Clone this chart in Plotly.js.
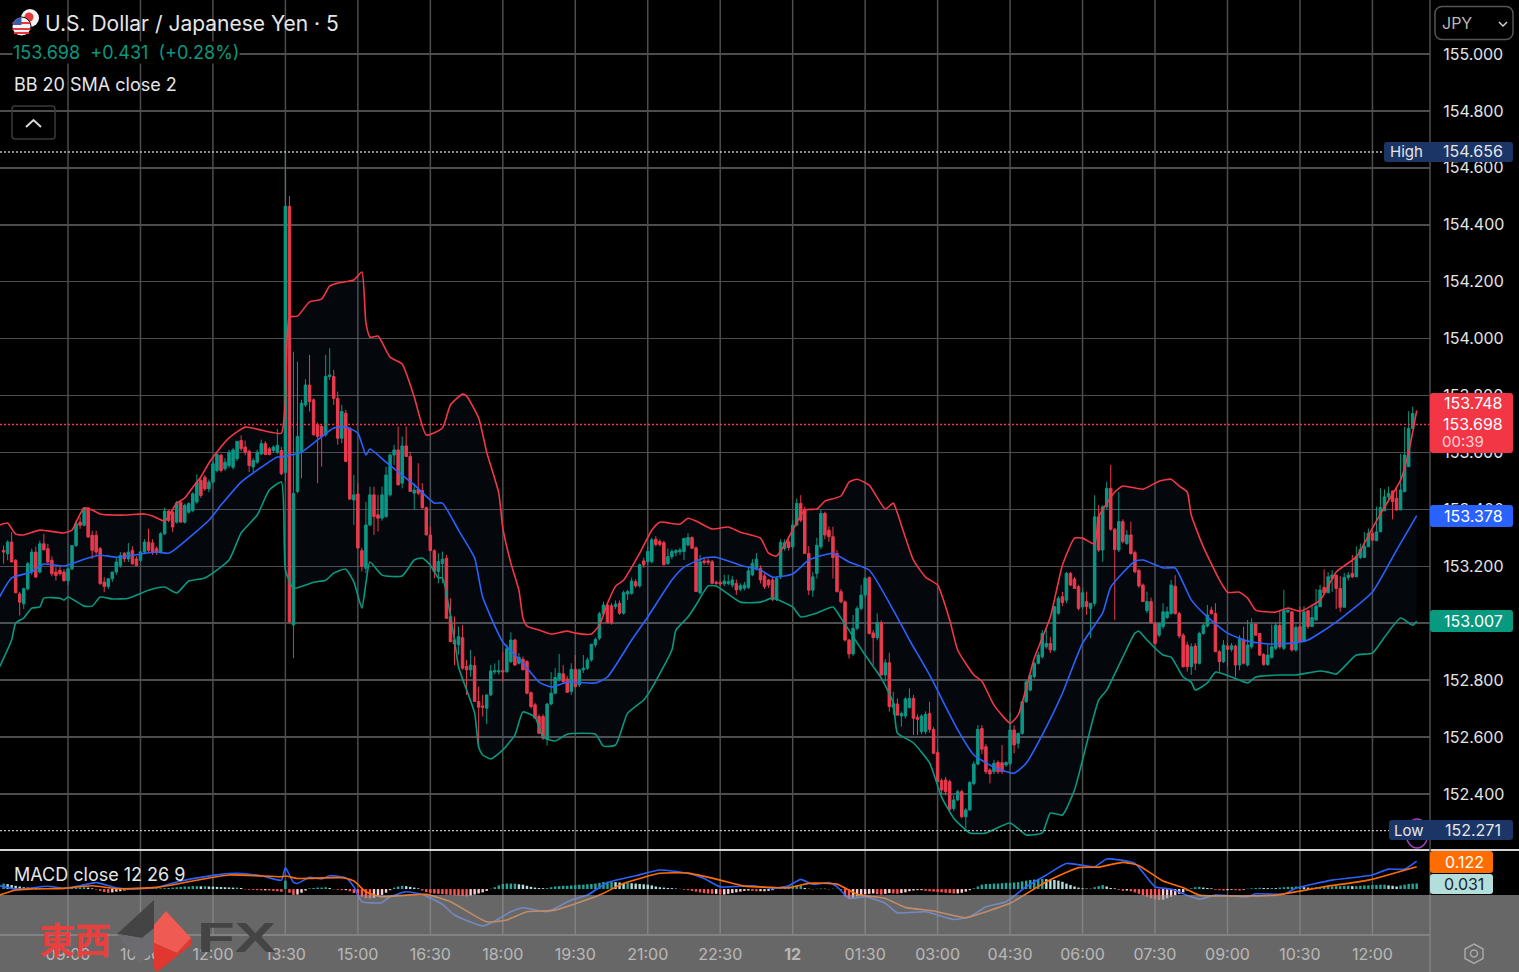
<!DOCTYPE html>
<html>
<head>
<meta charset="utf-8">
<script src="https://cdn.plot.ly/plotly-3.0.1.min.js"></script>
<style>
html, body { margin: 0; padding: 0; background: #000; overflow: hidden; }
#chart { position: absolute; left: 0; top: 0; width: 1519px; height: 972px; }
#icons { position: absolute; left: 0; top: 0; pointer-events: none; }
</style>
</head>
<body>
<div id="chart"></div>
<svg id="icons" width="1519" height="972" viewBox="0 0 1519 972">
  <!-- currency flags -->
  <circle cx="30" cy="18" r="9" fill="#f2f2f2"/>
  <circle cx="29" cy="17" r="4.5" fill="#e5373c"/>
  <circle cx="21.5" cy="26.5" r="9.5" fill="#f4f4f4" stroke="#000" stroke-width="1"/>
  <path d="M12.5 23h18M12.5 29h18M14 33h15" stroke="#e5373c" stroke-width="2.2"/>
  <path d="M13 25a9.5 9.5 0 0 1 8.5-8v8z" fill="#3b5aa8"/>
  <!-- collapse button -->
  <rect x="12" y="106" width="43" height="33" rx="3" fill="none" stroke="#3a3a3a" stroke-width="1.5"/>
  <path d="M26 127l7.5-7 7.5 7" fill="none" stroke="#d8d8d8" stroke-width="2"/>
  <!-- currency select -->
  <rect x="1435" y="6.5" width="78" height="33" rx="7" fill="none" stroke="#555" stroke-width="1.5"/>
  <path d="M1499 22l4 4 4-4" fill="none" stroke="#d0d0d0" stroke-width="1.5"/>
  <!-- settings -->
  <path d="M1474 944l9 5v9.500l-9 5-9-5v-9.500z" fill="none" stroke="#a8a8a8" stroke-width="1.500"/>
  <circle cx="1474" cy="953.500" r="3.500" fill="none" stroke="#a8a8a8" stroke-width="1.500"/>
  <!-- logo -->
  <path d="M154 900L117 934L142 938L154 928z" fill="#444"/>
  <path d="M117 934L140 963L154 952V929L142 938z" fill="#6c6c70"/>
  <path d="M154 925L166 911L191 938L177 953L154 943z" fill="#ef5a52"/>
  <path d="M154 943L177 953L191 938V945L157 972L154 968z" fill="#e2372f"/>
  <text x="197" y="952" font-family="Liberation Sans" font-weight="bold" font-size="42" fill="#444" textLength="79" lengthAdjust="spacingAndGlyphs">FX</text>
</svg>
<script>
// candle index of the first bar, one bar = 5 minutes
const firstCandle = -16;

const opens = [
153.256,153.244,153.285,153.221,153.103,153.068,153.121,153.180,153.250,153.180,
153.279,153.262,153.221,153.180,153.186,153.180,153.150,153.191,153.273,153.355,
153.344,153.405,153.309,153.309,153.262,153.145,153.129,153.156,153.180,153.203,
153.246,153.226,153.256,153.226,153.221,153.250,153.285,153.282,153.262,153.250,
153.314,153.394,153.390,153.355,153.425,153.355,153.390,153.396,153.426,153.502,
153.513,153.472,153.496,153.537,153.590,153.543,153.554,153.548,153.578,153.642,
153.619,153.604,153.549,153.566,153.595,153.631,153.613,153.607,153.601,153.607,
153.530,154.465,152.994,153.463,153.603,153.767,153.837,153.785,153.697,153.691,
153.662,153.867,153.867,153.790,153.650,153.738,153.685,153.433,153.454,153.255,
153.193,153.345,153.451,153.381,153.369,153.375,153.451,153.591,153.609,153.492,
153.623,153.586,153.457,153.471,153.466,153.406,153.310,153.255,153.182,153.210,
153.228,153.023,152.941,152.924,152.949,152.848,152.836,152.851,152.725,152.709,
152.701,152.748,152.829,152.829,152.833,152.830,152.865,152.941,152.859,152.873,
152.865,152.756,152.713,152.672,152.672,152.592,152.716,152.754,152.801,152.822,
152.804,152.760,152.838,152.783,152.836,152.842,152.871,152.924,152.947,153.033,
153.064,153.061,153.058,153.070,153.035,153.103,153.105,153.146,153.131,153.219,
153.216,153.216,153.295,153.287,153.283,153.210,153.234,153.248,153.251,153.252,
153.275,153.301,153.265,153.107,153.219,153.219,153.216,153.144,153.143,153.138,
153.140,153.134,153.140,153.119,153.123,153.126,153.170,153.193,153.193,153.166,
153.152,153.152,153.084,153.163,153.263,153.286,153.269,153.345,153.421,153.400,
153.245,153.116,153.175,153.269,153.386,153.327,153.304,153.245,153.111,153.075,
152.941,152.892,152.982,153.052,153.099,153.160,152.966,152.949,153.002,152.818,
152.861,152.704,152.716,152.674,152.674,152.704,152.736,152.669,152.619,152.619,
152.683,152.627,152.545,152.447,152.449,152.443,152.349,152.379,152.408,152.320,
152.344,152.437,152.505,152.630,152.566,152.484,152.478,152.511,152.510,152.502,
152.507,152.625,152.578,152.613,152.724,152.765,152.812,152.859,152.882,152.917,
152.929,152.906,153.035,153.093,153.081,153.175,153.155,153.128,153.058,153.076,
153.052,153.070,153.374,153.257,153.409,153.474,153.330,153.257,153.357,153.280,
153.310,153.248,153.185,153.134,153.044,153.076,152.999,152.958,152.988,153.020,
153.034,153.130,153.034,152.958,152.923,152.847,152.920,152.859,152.964,152.990,
153.046,153.034,152.900,152.865,152.920,152.908,152.920,152.853,152.941,152.853,
152.917,152.997,152.964,152.890,152.855,152.880,152.912,152.993,152.912,153.040,
153.040,152.906,152.988,152.935,153.044,152.988,153.011,153.058,153.126,153.107,
153.157,153.169,153.122,153.056,153.161,153.175,153.163,153.231,153.231,153.269,
153.316,153.290,153.321,153.395,153.444,153.465,153.439,153.398,153.462,153.550,
153.684,153.731];

const highs = [
153.273,153.291,153.320,153.225,153.110,153.125,153.215,153.262,153.270,153.290,
153.314,153.279,153.235,153.197,153.203,153.190,153.195,153.275,153.361,153.373,
153.405,153.405,153.325,153.325,153.268,153.162,153.158,153.180,153.232,153.250,
153.250,153.282,153.270,153.235,153.255,153.295,153.332,153.295,153.270,153.320,
153.406,153.398,153.395,153.430,153.430,153.420,153.425,153.460,153.523,153.510,
153.520,153.505,153.570,153.600,153.595,153.580,153.610,153.615,153.640,153.660,
153.642,153.610,153.580,153.610,153.645,153.640,153.620,153.625,153.683,153.620,
154.656,154.501,153.954,153.919,153.785,153.857,153.943,153.790,153.705,153.700,
153.943,153.966,153.890,153.814,153.767,153.750,153.690,153.521,153.492,153.265,
153.427,153.480,153.480,153.451,153.480,153.550,153.597,153.627,153.691,153.656,
153.691,153.603,153.492,153.562,153.492,153.410,153.340,153.260,153.246,153.252,
153.240,153.088,153.023,152.988,152.994,152.871,152.906,152.883,152.777,152.748,
152.748,152.853,152.859,152.871,152.900,152.925,152.968,152.945,152.895,152.883,
152.870,152.760,152.720,152.680,152.680,152.720,152.828,152.842,152.892,152.853,
152.815,152.859,152.888,152.840,152.888,152.880,152.925,152.950,153.040,153.076,
153.075,153.070,153.080,153.080,153.115,153.118,153.160,153.155,153.210,153.230,
153.270,153.300,153.306,153.295,153.290,153.263,153.260,153.260,153.265,153.300,
153.316,153.305,153.270,153.240,153.228,153.228,153.222,153.150,153.150,153.170,
153.170,153.165,153.154,153.140,153.145,153.195,153.225,153.246,153.203,153.175,
153.155,153.160,153.165,153.295,153.295,153.300,153.362,153.438,153.450,153.410,
153.271,153.180,153.300,153.398,153.392,153.340,153.339,153.257,153.120,153.080,
152.945,153.029,153.060,153.134,153.163,153.165,152.976,153.034,153.010,152.874,
152.896,152.759,152.736,152.690,152.740,152.771,152.748,152.680,152.680,152.690,
152.724,152.635,152.555,152.455,152.460,152.450,152.395,152.415,152.415,152.350,
152.445,152.515,152.642,152.642,152.575,152.490,152.520,152.518,152.572,152.515,
152.686,152.640,152.610,152.725,152.800,152.820,152.865,152.900,152.976,152.982,
152.952,153.060,153.095,153.110,153.180,153.180,153.162,153.135,153.122,153.111,
153.070,153.450,153.415,153.415,153.497,153.556,153.335,153.462,153.365,153.327,
153.357,153.255,153.192,153.140,153.111,153.090,153.005,153.000,153.070,153.058,
153.152,153.169,153.040,152.965,152.935,152.929,152.930,152.970,153.000,153.064,
153.058,153.070,152.905,152.941,152.930,152.930,152.925,152.958,152.988,153.011,
153.017,152.970,152.895,152.895,152.925,152.995,153.000,153.045,153.117,153.045,
152.990,152.995,153.058,153.060,153.025,153.065,153.120,153.135,153.189,153.180,
153.187,153.130,153.165,153.177,153.180,153.240,153.270,153.280,153.320,153.333,
153.325,153.410,153.474,153.470,153.480,153.445,153.475,153.595,153.690,153.745,
153.761];

const lows = [
153.209,153.221,153.215,153.107,153.027,153.050,153.115,153.170,153.160,153.175,
153.255,153.205,153.165,153.150,153.168,153.145,153.133,153.186,153.268,153.332,
153.340,153.300,153.226,153.240,153.135,153.109,153.120,153.145,153.170,153.195,
153.215,153.215,153.205,153.200,153.215,153.245,153.250,153.240,153.240,153.245,
153.310,153.355,153.320,153.350,153.355,153.350,153.385,153.390,153.420,153.440,
153.465,153.460,153.490,153.530,153.530,153.535,153.545,153.540,153.570,153.605,
153.590,153.531,153.530,153.560,153.590,153.590,153.590,153.600,153.595,153.520,
153.500,153.000,152.877,153.457,153.509,153.760,153.744,153.660,153.492,153.550,
153.655,153.855,153.767,153.627,153.632,153.568,153.435,153.345,153.264,153.182,
153.176,153.340,153.310,153.322,153.360,153.370,153.445,153.556,153.485,153.474,
153.585,153.463,153.398,153.450,153.400,153.310,153.255,153.158,153.140,153.140,
153.017,152.935,152.853,152.890,152.836,152.748,152.812,152.725,152.561,152.672,
152.646,152.745,152.820,152.820,152.795,152.825,152.860,152.850,152.855,152.835,
152.750,152.700,152.665,152.610,152.590,152.570,152.712,152.750,152.795,152.790,
152.755,152.748,152.775,152.775,152.825,152.835,152.865,152.915,152.940,153.025,
153.000,152.995,153.050,153.030,153.030,153.082,153.100,153.125,153.125,153.195,
153.205,153.210,153.270,153.270,153.205,153.205,153.225,153.235,153.240,153.222,
153.270,153.262,153.111,153.100,153.205,153.205,153.140,153.135,153.130,153.130,
153.133,153.125,153.099,153.112,153.115,153.120,153.165,153.185,153.140,153.120,
153.125,153.078,153.078,153.155,153.255,153.255,153.260,153.340,153.355,153.245,
153.099,153.093,153.157,153.260,153.295,153.286,153.157,153.108,153.070,152.935,
152.876,152.885,152.975,153.045,153.090,152.960,152.853,152.940,152.815,152.795,
152.689,152.677,152.675,152.636,152.665,152.700,152.607,152.607,152.610,152.610,
152.615,152.540,152.440,152.400,152.395,152.340,152.340,152.375,152.315,152.279,
152.340,152.430,152.500,152.540,152.470,152.437,152.470,152.470,152.470,152.495,
152.500,152.543,152.560,152.608,152.720,152.760,152.805,152.855,152.875,152.910,
152.895,152.900,153.030,153.060,153.070,153.130,153.120,153.045,153.050,153.029,
152.947,153.060,153.250,153.216,153.400,153.325,153.011,153.250,153.280,153.275,
153.240,153.175,153.125,153.075,153.035,153.000,152.925,152.950,152.980,153.015,
153.030,153.030,152.947,152.845,152.830,152.818,152.835,152.855,152.960,152.985,
153.030,152.900,152.830,152.860,152.847,152.900,152.812,152.835,152.855,152.848,
152.910,152.955,152.885,152.850,152.850,152.875,152.905,152.910,152.905,153.035,
152.900,152.900,152.930,152.982,152.980,153.005,153.055,153.105,153.100,153.150,
153.110,153.050,153.040,153.155,153.150,153.158,153.225,153.225,153.265,153.290,
153.285,153.315,153.390,153.440,153.425,153.365,153.395,153.455,153.545,153.660,
153.684];

const closes = [
153.250,153.285,153.215,153.107,153.074,153.121,153.209,153.250,153.162,153.279,
153.258,153.215,153.174,153.168,153.174,153.150,153.191,153.273,153.349,153.344,
153.405,153.303,153.256,153.250,153.139,153.129,153.156,153.180,153.215,153.238,
153.226,153.250,153.209,153.203,153.250,153.285,153.256,153.250,153.250,153.314,
153.394,153.361,153.338,153.423,153.355,153.414,153.420,153.455,153.496,153.449,
153.472,153.496,153.560,153.593,153.537,153.566,153.601,153.609,153.639,153.613,
153.601,153.554,153.572,153.601,153.631,153.593,153.593,153.619,153.625,153.525,
154.465,153.005,153.456,153.656,153.773,153.837,153.779,153.662,153.656,153.656,
153.867,153.872,153.790,153.650,153.744,153.568,153.436,153.451,153.264,153.199,
153.345,153.451,153.375,153.369,153.451,153.521,153.591,153.609,153.486,153.623,
153.586,153.463,153.468,153.457,153.406,153.310,153.255,153.182,153.217,153.225,
153.017,152.935,152.927,152.953,152.842,152.836,152.853,152.725,152.705,152.705,
152.748,152.832,152.833,152.833,152.829,152.910,152.941,152.853,152.880,152.836,
152.754,152.707,152.666,152.613,152.596,152.716,152.754,152.809,152.824,152.795,
152.757,152.838,152.777,152.836,152.842,152.871,152.926,152.943,153.033,153.064,
153.002,153.002,153.067,153.035,153.107,153.111,153.148,153.131,153.205,153.205,
153.252,153.293,153.277,153.277,153.205,153.234,153.252,153.255,153.257,153.298,
153.301,153.263,153.111,153.216,153.213,153.214,153.140,153.140,153.138,153.148,
153.146,153.152,153.117,153.132,153.134,153.184,153.211,153.225,153.152,153.128,
153.134,153.084,153.157,153.284,153.283,153.266,153.345,153.421,153.362,153.245,
153.116,153.163,153.274,153.386,153.310,153.304,153.231,153.111,153.075,152.941,
152.892,152.982,153.052,153.099,153.157,152.964,152.949,153.002,152.818,152.861,
152.707,152.718,152.677,152.683,152.734,152.736,152.666,152.662,152.674,152.680,
152.627,152.543,152.443,152.414,152.408,152.346,152.379,152.408,152.320,152.344,
152.440,152.505,152.627,152.557,152.478,152.470,152.508,152.478,152.478,152.510,
152.625,152.572,152.613,152.724,152.794,152.818,152.859,152.888,152.964,152.929,
152.906,153.058,153.087,153.073,153.175,153.134,153.122,153.052,153.107,153.058,
153.070,153.374,153.257,153.409,153.474,153.330,153.259,153.357,153.286,153.310,
153.245,153.181,153.131,153.076,153.076,153.002,152.929,152.999,153.040,153.040,
153.134,153.034,152.955,152.847,152.847,152.917,152.859,152.964,152.993,153.029,
153.034,152.900,152.865,152.923,152.908,152.921,152.853,152.943,152.859,152.923,
152.997,152.958,152.888,152.855,152.888,152.917,152.993,152.917,153.044,153.046,
152.906,152.985,152.935,153.040,152.988,153.020,153.060,153.117,153.107,153.163,
153.169,153.122,153.056,153.161,153.169,153.163,153.234,153.259,153.269,153.316,
153.292,153.321,153.407,153.444,153.456,153.427,153.398,153.468,153.591,153.684,
153.737,153.698];

// Bollinger bands, read at the bends of each line
const upperX = [-17,-15,-13,-11,-7,-1,1,2,4,6,8,14,19,21,24,27,29,31,33,35,37,40,44,47,50,53,54,55,57,60,63,65,67,71,73,74,75,77,80,83,86,89,93,95,98,99,102,104,107,108,110,112,113,114,117,120,124,126,130,132,134,136,138,142,145,147,152,154,156,160,164,167,172,174,176,178,180,183,186,188,192,194,196,199,203,205,206,210,213,216,219,221,225,227,230,234,236,240,244,247,250,252,255,256,260,262,267,271,274,276,278,279,282,286,288,291,293,295,300,303,306,311,315,320,324,327,331,333,335];
const upperY = [153.345,153.352,153.313,153.310,153.327,153.317,153.327,153.355,153.405,153.398,153.384,153.380,153.384,153.377,153.359,153.422,153.440,153.478,153.514,153.563,153.602,153.651,153.689,153.682,153.672,153.668,153.784,154.076,154.079,154.129,154.139,154.185,154.195,154.206,154.234,154.055,154.005,154.009,153.935,153.911,153.795,153.661,153.686,153.767,153.805,153.798,153.721,153.601,153.457,153.334,153.211,153.116,153.018,152.990,152.976,152.962,152.972,152.965,152.962,152.993,153.070,153.130,153.151,153.246,153.327,153.355,153.348,153.369,153.359,153.331,153.338,153.320,153.299,153.246,153.236,153.275,153.327,153.398,153.401,153.429,153.447,153.496,153.506,153.485,153.401,153.422,153.387,153.222,153.162,153.134,153.011,152.905,152.818,152.796,152.712,152.649,152.677,152.877,153.022,153.204,153.299,153.299,153.278,153.373,153.461,153.482,153.471,153.499,153.506,153.482,153.461,153.380,153.268,153.152,153.109,153.109,153.088,153.046,153.039,153.053,153.042,153.081,153.180,153.233,153.334,153.408,153.503,153.601,153.748];

const basisX = [-17,-14,-9,-6,-1,4,8,12,22,25,27,35,38,43,47,52,53,58,62,66,69,72,74,75,79,86,91,93,97,101,103,108,113,117,120,124,131,134,140,144,150,153,158,161,167,172,175,180,184,190,194,199,205,209,214,221,225,230,235,238,243,247,252,257,259,265,267,272,275,279,283,288,293,298,304,308,315,324,330,335];
const basisY = [153.092,153.159,153.180,153.208,153.201,153.225,153.239,153.232,153.250,153.246,153.264,153.362,153.415,153.496,153.538,153.584,153.584,153.601,153.644,153.686,153.689,153.668,153.591,153.612,153.566,153.486,153.422,153.422,153.327,153.229,153.092,152.934,152.860,152.793,152.776,152.793,152.790,152.811,152.941,153.022,153.152,153.197,153.229,153.232,153.204,153.187,153.162,153.173,153.222,153.246,153.215,153.187,153.046,152.941,152.818,152.625,152.537,152.494,152.473,152.508,152.635,152.754,152.930,153.036,153.127,153.218,153.222,153.194,153.194,153.082,153.022,152.965,152.937,152.927,152.930,152.941,153.004,153.110,153.257,153.378];

const lowerX = [-17,-14,-13,-11,-9,-7,-6,-2,-1,0,4,6,8,11,15,20,24,27,30,34,40,43,47,50,53,54,56,61,64,66,69,71,73,74,75,78,83,86,88,90,92,93,96,97,101,102,103,105,108,111,113,116,118,121,124,131,133,136,139,143,145,150,151,154,156,159,161,167,172,175,180,182,186,190,192,198,202,205,206,210,214,217,220,224,228,234,238,242,244,247,250,252,256,258,262,265,266,268,272,274,277,279,280,283,285,289,293,295,301,305,311,313,315,320,324,327,331,334,335];
const lowerY = [152.846,152.941,153.001,153.018,153.053,153.057,153.088,153.088,153.081,153.092,153.060,153.060,153.092,153.085,153.088,153.116,153.127,153.106,153.148,153.159,153.222,153.317,153.380,153.468,153.496,153.187,153.123,153.144,153.151,153.176,153.190,153.145,153.053,153.141,153.215,153.169,153.166,153.222,153.229,153.204,153.159,153.159,152.941,152.846,152.684,152.565,152.537,152.523,152.555,152.607,152.688,152.670,152.600,152.586,152.610,152.610,152.568,152.572,152.684,152.730,152.772,152.906,152.976,153.022,153.064,153.131,153.131,153.074,153.074,153.088,153.057,153.022,153.036,153.057,153.018,152.888,152.807,152.720,152.614,152.579,152.509,152.389,152.315,152.263,152.263,152.298,152.256,152.263,152.333,152.326,152.414,152.519,152.730,152.765,152.881,152.965,152.972,152.941,152.888,152.881,152.811,152.793,152.765,152.790,152.828,152.811,152.790,152.811,152.818,152.818,152.832,152.828,152.821,152.888,152.895,152.951,153.018,152.993,153.007];

// MACD lines
const macdX = [-17,-13,-10,-5,-1,3,7,12,16,22,28,33,38,42,48,53,54,56,57,60,63,65,69,71,73,78,80,84,88,93,96,103,106,110,113,119,125,129,134,141,147,154,158,162,170,175,179,182,185,189,191,194,198,203,206,213,220,224,228,233,238,243,248,255,258,265,270,274,281,285,293,295,302,305,314,324,328,332,335];
const macdY = [0.018,0,0.004,0.015,0.004,0.018,0.035,0.007,0,0.009,0.044,0.064,0.08,0.086,0.073,0.049,0.117,0.036,0.031,0.064,0.055,0.073,0.062,0.013,-0.069,-0.073,-0.042,-0.015,-0.029,-0.084,-0.142,-0.202,-0.175,-0.124,-0.102,-0.124,-0.06,-0.033,0.036,0.073,0.104,0.086,0.058,0.012,0.018,0.004,0.018,0.053,0.026,0.035,0.013,-0.051,-0.042,-0.078,-0.129,-0.124,-0.166,-0.151,-0.097,-0.069,0.013,0.077,0.14,0.122,0.164,0.14,0.013,0,-0.055,-0.033,-0.042,-0.026,-0.027,0.004,0.049,0.077,0.109,0.109,0.153];

const signalX = [-17,-13,-9,-1,6,12,22,31,40,53,54,57,68,71,74,78,84,89,95,104,109,114,121,132,138,147,154,162,168,175,179,184,191,196,203,208,215,223,228,234,243,251,256,262,266,272,277,281,289,300,312,323,335];
const signalY = [-0.033,-0.005,0,0.004,0.018,0.002,0.009,0.044,0.077,0.067,0.071,0.058,0.062,0.044,-0.015,-0.042,-0.033,-0.029,-0.069,-0.179,-0.169,-0.124,-0.115,-0.033,0.031,0.086,0.087,0.049,0.016,0.009,0.007,0.031,0.027,-0.029,-0.051,-0.1,-0.12,-0.157,-0.124,-0.078,0.04,0.117,0.12,0.146,0.128,0.044,0.007,-0.033,-0.038,-0.033,0.013,0.049,0.122];

const histogram = [
0.030,0.027,0.022,0.018,0.014,0.010,0.008,0.006,0.005,0.004,
0.003,0.003,0.004,0.002,0.003,0.004,0.006,0.008,0.009,0.010,
0.010,0.008,0.004,-0.003,-0.010,-0.016,-0.020,-0.018,-0.014,-0.012,
-0.008,-0.005,-0.002,0.002,0.003,0.003,0.002,0.003,0.004,0.004,
0.005,0.006,0.008,0.010,0.012,0.014,0.014,0.016,0.016,0.015,
0.015,0.014,0.013,0.012,0.011,0.010,0.009,0.008,0.008,0.006,
-0.002,-0.004,-0.005,-0.006,-0.007,-0.007,-0.008,-0.010,-0.012,-0.015,
0.046,-0.020,-0.032,-0.030,-0.020,-0.008,0.004,0.006,0.008,0.008,
0.010,0.006,-0.002,-0.004,-0.006,-0.006,-0.012,-0.022,-0.032,-0.042,
-0.050,-0.052,-0.048,-0.040,-0.032,-0.020,-0.006,0.008,0.014,0.018,
0.016,0.012,0.008,0.004,-0.008,-0.016,-0.022,-0.024,-0.026,-0.028,
-0.030,-0.032,-0.034,-0.036,-0.038,-0.040,-0.036,-0.030,-0.024,-0.018,
-0.010,0.002,0.010,0.020,0.028,0.030,0.030,0.030,0.026,0.024,
0.018,0.012,0.008,0.006,0.005,0.005,0.010,0.014,0.016,0.018,
0.018,0.020,0.022,0.024,0.024,0.026,0.028,0.030,0.034,0.038,
0.040,0.040,0.038,0.036,0.034,0.034,0.032,0.030,0.028,0.026,
0.024,0.020,0.014,0.010,0.008,0.006,0.005,0.003,0.001,-0.004,
-0.006,-0.010,-0.014,-0.018,-0.022,-0.024,-0.026,-0.026,-0.030,-0.030,
-0.026,-0.022,-0.018,-0.014,-0.010,-0.008,-0.010,-0.012,-0.012,-0.012,
-0.010,-0.006,0.004,0.008,0.012,0.016,0.018,0.020,0.020,0.006,
0.002,-0.002,0.002,0.003,0.002,-0.002,0.002,0.002,-0.006,-0.040,
-0.050,-0.048,-0.040,-0.032,-0.028,-0.026,-0.024,-0.028,-0.030,-0.026,
-0.022,-0.024,-0.026,-0.022,-0.018,-0.012,-0.008,-0.006,-0.006,-0.010,
-0.012,-0.014,-0.016,-0.018,-0.020,-0.022,-0.024,-0.024,-0.020,-0.014,
-0.006,0.004,0.014,0.024,0.028,0.028,0.030,0.030,0.032,0.034,
0.034,0.036,0.038,0.042,0.046,0.050,0.052,0.054,0.056,0.054,
0.052,0.050,0.046,0.040,0.030,0.022,0.014,0.008,0.004,0.003,
0.002,0.010,0.016,0.022,0.014,0.006,0.004,-0.004,-0.010,-0.008,
-0.012,-0.018,-0.026,-0.034,-0.042,-0.050,-0.056,-0.060,-0.058,-0.050,
-0.042,-0.034,-0.026,-0.018,-0.008,0.004,0.010,0.012,0.008,0.006,
0.004,-0.004,-0.006,-0.008,-0.006,-0.004,-0.006,-0.008,-0.004,0.002,
0.004,0.006,0.007,0.006,0.005,0.006,0.005,0.008,0.010,0.012,
0.012,0.014,0.014,0.010,0.008,0.008,0.010,0.012,0.014,0.014,
0.014,0.016,0.016,0.018,0.018,0.016,0.016,0.018,0.020,0.020,
0.022,0.022,0.024,0.024,0.020,0.018,0.014,0.020,0.024,0.028,0.030,0.031];

const timeTicks = [0,18,36,54,72,90,108,126,144,162,180,198,216,234,252,270,288,306,324];
const timeLabels = ['09:00','10:30','12:00','13:30','15:00','16:30','18:00','19:30','21:00','22:30','<b>12</b>','01:30','03:00','04:30','06:00','07:30','09:00','10:30','12:00'];

const highPrice = 154.656, lowPrice = 152.271, lastPrice = 153.698;
const upColor = '#089981', downColor = '#f23645', gridColor = '#4d4d4d', textColor = '#e6e6e6';
const uiFont = 'Inter, Roboto, sans-serif';

const plotW = 1430, plotH = 935;
const px = x => x / plotW;
const py = y => 1 - y / plotH;

const candleX = opens.map((v, k) => firstCandle + k);
const histX = histogram.map((v, k) => firstCandle + k);
const histColors = histogram.map((v, k) => {
    let rising = k == 0 || v >= histogram[k - 1];
    if (v >= 0) return rising ? '#26a69a' : '#b2dfdb';
    return rising ? '#ffcdd2' : '#ff5252';
});

const smooth = { shape: 'spline', smoothing: 0.5 };

var candles = {
    type: 'candlestick', x: candleX, open: opens, high: highs, low: lows, close: closes,
    xaxis: 'x', yaxis: 'y', hoverinfo: 'skip',
    increasing: { line: { color: upColor, width: 1 }, fillcolor: upColor },
    decreasing: { line: { color: downColor, width: 1 }, fillcolor: downColor }
};
var lower = { type: 'scatter', mode: 'lines', x: lowerX, y: lowerY, xaxis: 'x', yaxis: 'y', hoverinfo: 'skip',
    line: Object.assign({ color: upColor, width: 1.6 }, smooth) };
var upper = { type: 'scatter', mode: 'lines', x: upperX, y: upperY, xaxis: 'x', yaxis: 'y', hoverinfo: 'skip',
    line: Object.assign({ color: downColor, width: 1.6 }, smooth), fill: 'tonexty', fillcolor: 'rgba(70,130,220,0.055)' };
var basis = { type: 'scatter', mode: 'lines', x: basisX, y: basisY, xaxis: 'x', yaxis: 'y', hoverinfo: 'skip',
    line: Object.assign({ color: '#2962ff', width: 1.6 }, smooth) };
var hist = { type: 'bar', x: histX, y: histogram, xaxis: 'x', yaxis: 'y2', hoverinfo: 'skip', width: 0.6,
    marker: { color: histColors, line: { width: 0 } } };
var macd = { type: 'scatter', mode: 'lines', x: macdX, y: macdY, xaxis: 'x', yaxis: 'y2', hoverinfo: 'skip',
    line: Object.assign({ color: '#2962ff', width: 1.6 }, smooth) };
var signal = { type: 'scatter', mode: 'lines', x: signalX, y: signalY, xaxis: 'x', yaxis: 'y2', hoverinfo: 'skip',
    line: Object.assign({ color: '#ff6d00', width: 1.6 }, smooth) };

// rounded label box, given in page pixels
function box(x0, y0, x1, y1, color) {
    const r = 3;
    const p = (x, y) => px(x) + ',' + py(y);
    return {
        type: 'path', xref: 'paper', yref: 'paper', layer: 'above', fillcolor: color, line: { width: 0 },
        path: 'M' + p(x0 + r, y0) + ' L' + p(x1 - r, y0) + ' Q' + p(x1, y0) + ' ' + p(x1, y0 + r) +
              ' L' + p(x1, y1 - r) + ' Q' + p(x1, y1) + ' ' + p(x1 - r, y1) +
              ' L' + p(x0 + r, y1) + ' Q' + p(x0, y1) + ' ' + p(x0, y1 - r) +
              ' L' + p(x0, y0 + r) + ' Q' + p(x0, y0) + ' ' + p(x0 + r, y0) + ' Z'
    };
}
function priceLine(price, color) {
    return { type: 'line', xref: 'paper', yref: 'y', x0: 0, x1: 1, y0: price, y1: price, layer: 'above',
             line: { color: color, width: 1.4, dash: '2px,2px' } };
}
function label(x, y, text, size, color, anchor) {
    return { xref: 'paper', yref: 'paper', x: px(x), y: py(y), text: text, showarrow: false,
             xanchor: anchor || 'center', yanchor: 'middle', borderpad: 0,
             font: { family: uiFont, size: size, color: color } };
}

// vertical grid goes under the traces, the axis grid would lie over the bars that sit on a tick
var timeGrid = timeTicks.map(t => ({
    type: 'line', xref: 'x', yref: 'paper', x0: t, x1: t, y0: 0, y1: 1, layer: 'below',
    line: { color: gridColor, width: 1.5 }
}));

var shapes = timeGrid.concat([
    priceLine(highPrice, '#bdbdbd'),
    priceLine(lowPrice, '#bdbdbd'),
    priceLine(lastPrice, downColor),
    { type: 'line', xref: 'paper', yref: 'paper', x0: px(0), x1: px(1519), y0: py(850), y1: py(850), layer: 'above',
      line: { color: '#d4d4d4', width: 2 } },
    { type: 'line', xref: 'paper', yref: 'paper', x0: 1, x1: 1, y0: py(0), y1: py(972), layer: 'above',
      line: { color: gridColor, width: 1.5 } },
    { type: 'line', xref: 'paper', yref: 'paper', x0: 0, x1: 1, y0: py(935), y1: py(935), layer: 'above',
      line: { color: gridColor, width: 2 } },
    { type: 'rect', xref: 'paper', yref: 'paper', x0: px(0), x1: px(1519), y0: py(972), y1: py(895), layer: 'above',
      fillcolor: 'rgba(158,158,158,0.65)', line: { width: 0 } },
    { type: 'circle', xref: 'paper', yref: 'paper', x0: px(1406), x1: px(1428), y0: py(819), y1: py(848), layer: 'above',
      fillcolor: 'rgba(0,0,0,0)', line: { color: '#a040c0', width: 1.5 } },
    box(1384, 142, 1513, 162, '#1b3566'),
    box(1389, 820, 1513, 840, '#1b3566'),
    box(1430, 393, 1513, 453, downColor),
    box(1430, 505, 1513, 527, '#2962ff'),
    box(1430, 610, 1513, 632, upColor),
    box(1430, 851, 1493, 873, '#ff6d00'),
    box(1430, 874, 1493, 894, '#b2dfdb')
]);

var legendPrice = label(12, 53, '153.698 &#160;+0.431 &#160;(+0.28%)', 18, upColor, 'left');
legendPrice.bgcolor = '#000';

var annotations = [
    label(44, 23, 'U.S. Dollar / Japanese Yen · 5', 21, textColor, 'left'),
    legendPrice,
    label(13, 84, 'BB 20 SMA close 2', 18, textColor, 'left'),
    label(13, 874, 'MACD close 12 26 9', 18, textColor, 'left'),
    label(1441, 23, 'JPY', 16, '#b8b8b8', 'left'),
    label(1406, 151.5, 'High', 15, textColor),
    label(1473, 151.5, '154.656', 16, textColor),
    label(1408, 830, 'Low', 15, textColor),
    label(1473, 830, '152.271', 16, textColor),
    label(1473, 403, '153.748', 16, '#fff'),
    label(1473, 424, '153.698', 16, '#fff'),
    label(1463, 441, '00:39', 15, '#fdd0d4'),
    label(1473, 516, '153.378', 16, '#fff'),
    label(1473, 621, '153.007', 16, '#fff'),
    label(1464, 862, '0.122', 16, '#fff'),
    label(1464, 884, '0.031', 16, '#222'),
    { xref: 'paper', yref: 'paper', x: px(75), y: py(938), text: '<b>東西</b>', showarrow: false, xanchor: 'center', yanchor: 'middle',
      font: { family: '"Noto Sans CJK JP"', size: 36, color: '#e8403f' } }
];

var layout = {
    width: 1519, height: 972,
    margin: { l: 0, r: 89, t: 0, b: 37, pad: 0 },
    paper_bgcolor: '#000', plot_bgcolor: '#000',
    font: { family: uiFont },
    showlegend: false, bargap: 0.3, boxgap: 0.38, boxgroupgap: 0,
    xaxis: {
        range: [-68 / 4.026, (plotW - 68) / 4.026], anchor: 'y2',
        showgrid: false, zeroline: false,
        tickmode: 'array', tickvals: timeTicks, ticktext: timeLabels, rangeslider: { visible: false },
        ticks: 'outside', ticklen: 5, tickcolor: 'rgba(0,0,0,0)',
        tickfont: { family: uiFont, size: 16, color: '#e4e4e4' }
    },
    yaxis: {
        domain: [(plotH - 850) / plotH, 1], range: [152.203, 155.19], side: 'right', anchor: 'x',
        tick0: 155, dtick: 0.2, tickformat: '.3f', zeroline: false,
        showgrid: true, gridcolor: gridColor, gridwidth: 1.5,
        ticks: 'outside', ticklen: 9, tickcolor: 'rgba(0,0,0,0)',
        tickfont: { family: uiFont, size: 16, color: '#e4e4e4' }
    },
    yaxis2: {
        domain: [0, (plotH - 851) / plotH], range: [-0.251, 0.208], side: 'right', anchor: 'x',
        showgrid: false, zeroline: false, showticklabels: false, ticks: ''
    },
    shapes: shapes,
    annotations: annotations
};

Plotly.newPlot('chart', [candles, lower, upper, basis, hist, macd, signal], layout, { staticPlot: true, displayModeBar: false });
</script>
</body>
</html>
